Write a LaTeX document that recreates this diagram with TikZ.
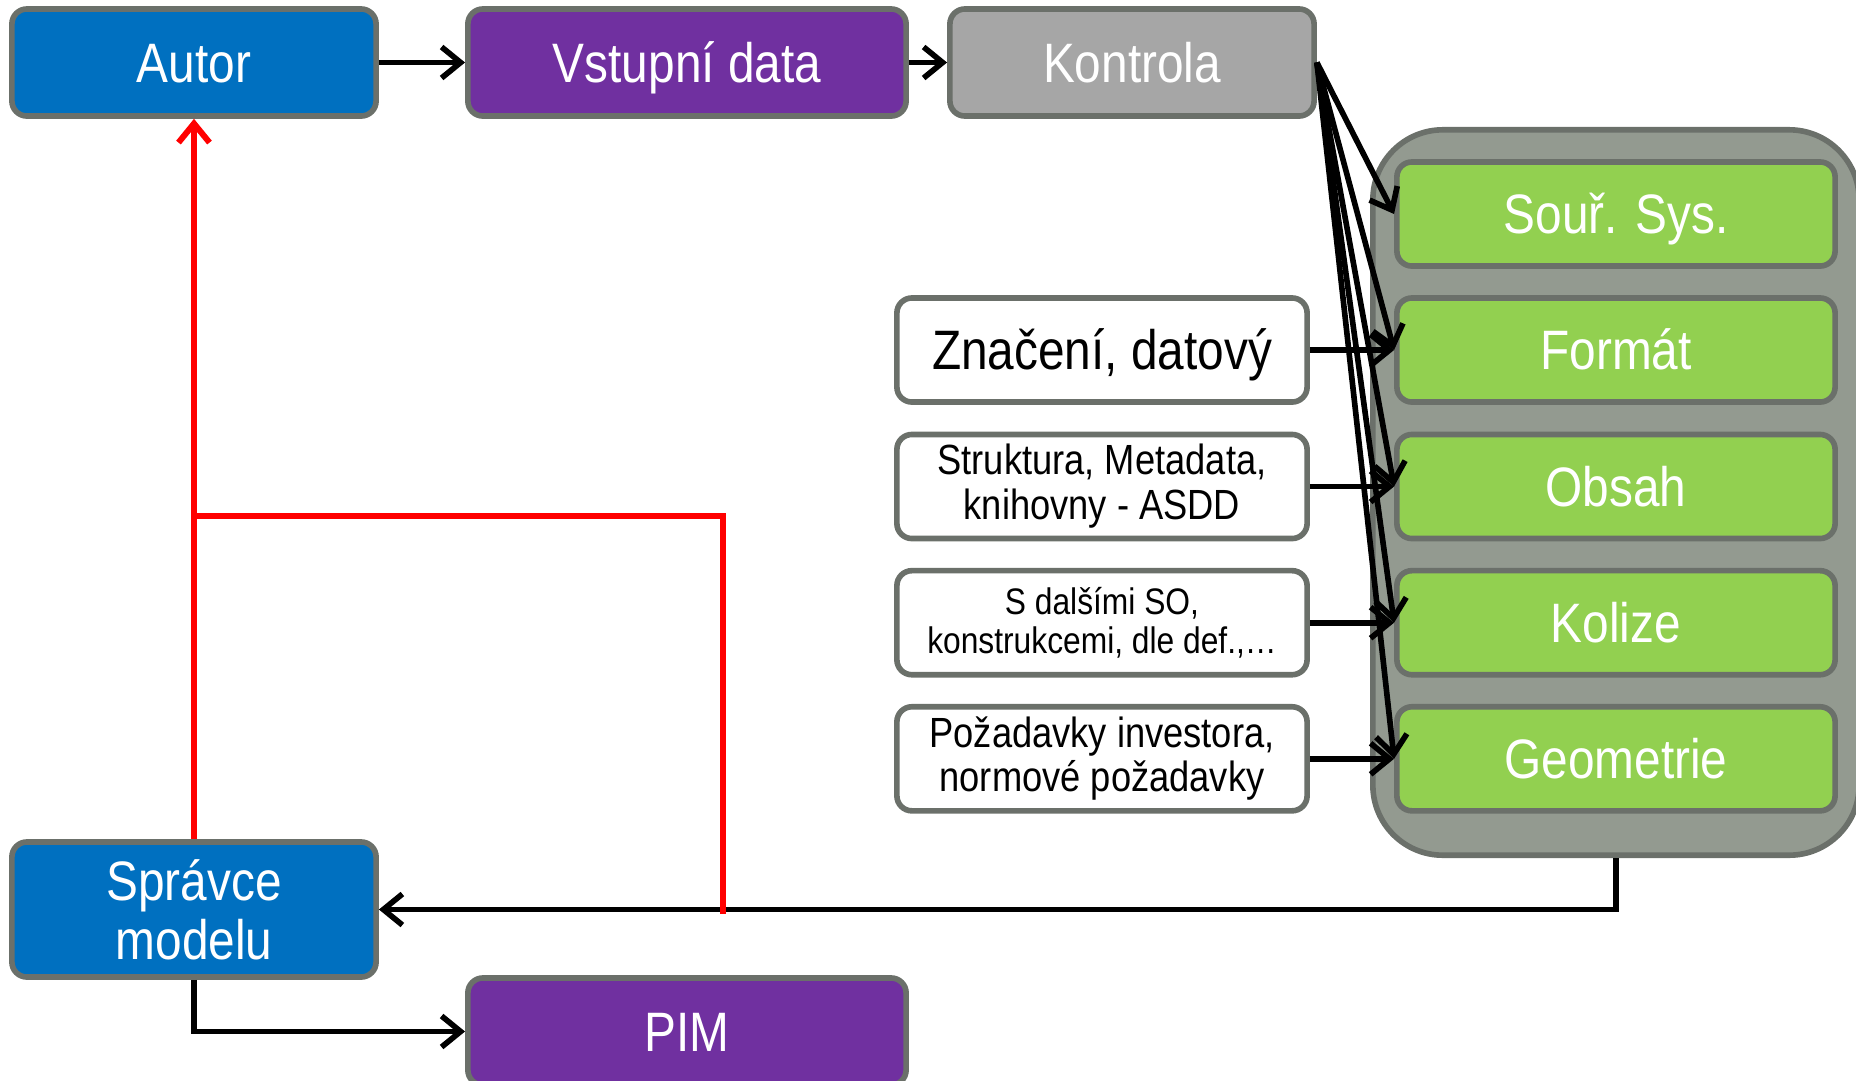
\documentclass[tikz,border=0pt]{standalone}
\usepackage{fontspec}
\setmainfont{Liberation Sans}[FakeStretch=0.86]
\usetikzlibrary{arrows.meta}
\definecolor{cblue}{HTML}{0070C0}
\definecolor{cpurple}{HTML}{7030A0}
\definecolor{cgray}{HTML}{A6A6A6}
\definecolor{cgreen}{HTML}{92D050}
\definecolor{ccont}{HTML}{939A90}
\definecolor{cborder}{HTML}{6B706A}
\definecolor{cred}{HTML}{FF0000}
\begin{document}
\begin{tikzpicture}[x=0.01cm,y=-0.01cm,
  box/.style={draw=cborder, line width=1.6pt, rounded corners=1.5mm, align=center, inner sep=0pt},
  oneline/.style={text height=14pt, text depth=2.7pt},
  head/.style={box, minimum height=1.07cm, text=white, font=\fontsize{15.8}{16.8}\selectfont},
  greenbox/.style={box, oneline, fill=cgreen, minimum width=4.38cm, minimum height=1.04cm, text=white, font=\fontsize{15.8}{16.8}\selectfont},
  whitebox/.style={box, fill=white, minimum width=4.10cm, minimum height=1.04cm, text=black},
  tip/.style={-{Straight Barb[length=1.9mm,width=3.1mm,line width=1.6pt]}},
  arr/.style={line width=1.6pt, tip},
  redline/.style={line width=1.7pt, draw=cred}
]
\useasboundingbox (0,0) rectangle (1856,1081);
\clip (0,0) rectangle (1856,1081);

% top row
\node[head, oneline, fill=cblue, minimum width=3.64cm] (autor) at (194,62.5) {Autor};
\node[head, oneline, fill=cpurple, minimum width=4.38cm] (vstup) at (687,62.5) {Vstupní data};
\node[head, oneline, fill=cgray, minimum width=3.64cm] (kontrola) at (1132,62.5) {Kontrola};

% container
\node[draw=cborder, line width=1.6pt, fill=ccont, rounded corners=7mm, minimum width=4.86cm, minimum height=7.25cm, inner sep=0pt] (cont) at (1616,492.5) {};

% green checks
\node[greenbox] (sour) at (1616,214) {Souř. Sys.};
\node[greenbox] (format) at (1616,350) {Formát};
\node[greenbox] (obsah) at (1616,486.5) {Obsah};
\node[greenbox] (kolize) at (1616,622.7) {Kolize};
\node[greenbox] (geom) at (1616,758.8) {Geometrie};

% white descriptions
\node[whitebox, oneline, font=\fontsize{15.8}{16.8}\selectfont] (zn) at (1102,350) {Značení, datový};
\node[whitebox, font=\fontsize{12}{12.8}\selectfont] (str) at (1102,486.5) {Struktura, Metadata,\\knihovny - ASDD};
\node[whitebox, font=\fontsize{10.5}{11.2}\selectfont] (sdal) at (1102,622.7) {S dalšími SO,\\konstrukcemi, dle def.,…};
\node[whitebox, font=\fontsize{12}{12.6}\selectfont] (poz) at (1102,758.8) {Požadavky investora,\\normové požadavky};

% bottom
\node[head, fill=cblue, minimum width=3.64cm, minimum height=1.35cm] (spravce) at (194,909.5) {Správce\\modelu};
\node[head, oneline, fill=cpurple, minimum width=4.38cm] (pim) at (687,1031.5) {PIM};

% connectors
\draw[arr] (autor) -- (vstup);
\draw[arr] (vstup) -- (kontrola);
\foreach \t in {sour,format,obsah,kolize,geom}
  \draw[arr] (kontrola.east) -- (\t.west);
\draw[arr] (zn) -- (format);
\draw[arr] (str) -- (obsah);
\draw[arr] (sdal) -- (kolize);
\draw[arr] (poz) -- (geom);
\draw[arr] (cont.south) |- (spravce.east);
\draw[arr] (spravce.south) |- (pim.west);

% red feedback
\draw[redline, -{Straight Barb[length=1.9mm,width=3.1mm,line width=1.7pt]}] (spravce.north) -- (autor.south);
\coordinate (rj) at (194,516);
\coordinate (rk) at (723,914);
\draw[redline] (rj) -| (rk);
\end{tikzpicture}
\end{document}
